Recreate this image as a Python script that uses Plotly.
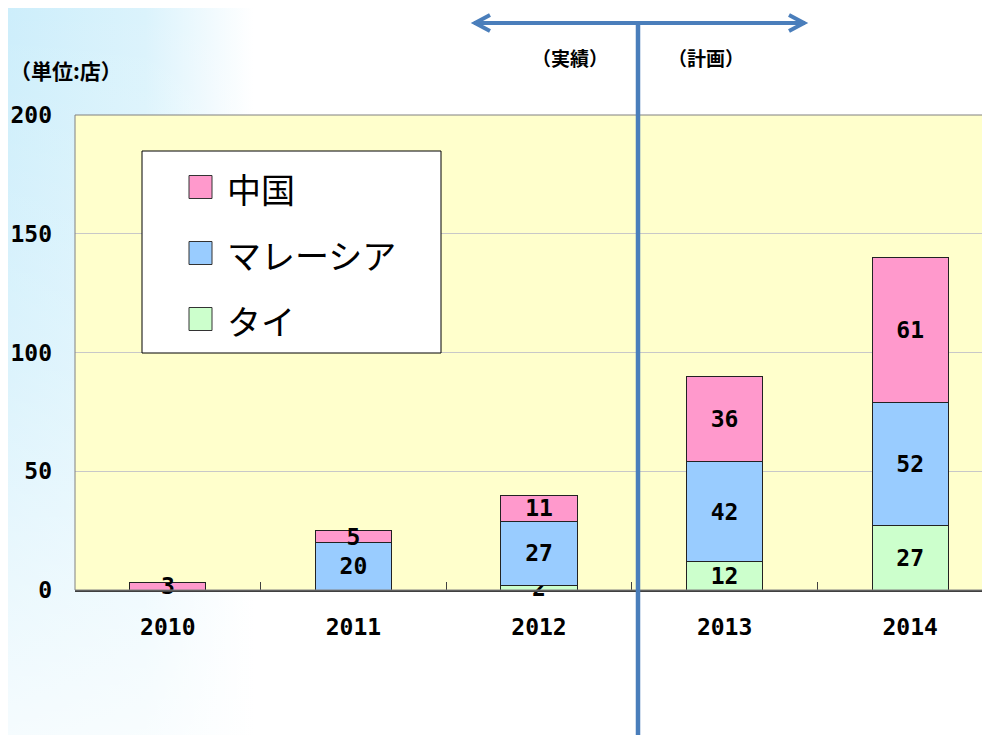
import base64
import plotly.graph_objects as go

# ---- data ----
years = ["2010", "2011", "2012", "2013", "2014"]
series_names = ["中国", "マレーシア", "タイ"]
china = [3, 5, 11, 36, 61]
malaysia = [0, 20, 27, 42, 52]
thai = [0, 0, 2, 12, 27]
y_ticks = [0, 50, 100, 150, 200]
unit_label = "（単位:店）"
actual_label = "（実績）"
plan_label = "（計画）"

colors = {"中国": "#FF99CC", "マレーシア": "#99CCFF", "タイ": "#CCFFCC"}

# ---- geometry (page pixel coords; page has an 8px body margin) ----
OFF = 8
PW, PH = 990, 735
L, T, W, H = 75, 115, 915, 475           # plot area in page coords
FW, FH = PW - OFF, PH - OFF               # figure size


def px(x):
    return (x - L) / W


def py(y):
    return (T + H - y) / H


num_font = dict(family="DejaVu Sans Mono", size=23, color="black", weight="bold")
jp_bold = dict(family="Noto Sans CJK JP", size=19, color="black", weight="bold")

fig = go.Figure()


def lab(vals):
    return [str(v) if v else "" for v in vals]


for name, vals in [("タイ", thai), ("マレーシア", malaysia), ("中国", china)]:
    fig.add_trace(go.Bar(
        x=years, y=vals, name=name, width=0.41,
        marker=dict(color=colors[name], line=dict(color="#222222", width=1)),
        text=lab(vals), textposition="inside", insidetextanchor="middle",
        textangle=0, constraintext="none", textfont=num_font, cliponaxis=False,
        showlegend=False, hoverinfo="skip",
    ))

# background gradient (figure coords)
svg = f'''<svg xmlns="http://www.w3.org/2000/svg" width="{FW}" height="{FH}" viewBox="0 0 {FW} {FH}" preserveAspectRatio="none">
<defs>
<linearGradient id="g" x1="0" y1="0" x2="1" y2="0">
<stop offset="0" stop-color="#cdeefb"/>
<stop offset="0.14" stop-color="#dbf3fc"/>
<stop offset="0.25" stop-color="#ffffff"/>
</linearGradient>
<linearGradient id="v" x1="0" y1="0" x2="0" y2="1">
<stop offset="0" stop-color="#ffffff" stop-opacity="0"/>
<stop offset="0.5" stop-color="#ffffff" stop-opacity="0.3"/>
<stop offset="1" stop-color="#ffffff" stop-opacity="0.8"/>
</linearGradient>
</defs>
<rect width="{FW}" height="{FH}" fill="url(#g)"/>
<rect width="{FW}" height="{FH}" fill="url(#v)"/>
</svg>'''
src = "data:image/svg+xml;base64," + base64.b64encode(svg.encode()).decode()

shapes = []
shapes.append(dict(type="rect", xref="paper", yref="paper", x0=0, x1=1, y0=0, y1=1,
                   fillcolor="#FFFFCC", line=dict(width=0), layer="below"))
shapes.append(dict(type="rect", xref="paper", yref="paper", x0=0, x1=1.01, y0=0, y1=1,
                   fillcolor="rgba(0,0,0,0)", line=dict(color="#808080", width=1), layer="above"))

blue = "#4A7EBB"
shapes.append(dict(type="line", xref="paper", yref="paper", x0=px(638), x1=px(638),
                   y0=py(21), y1=py(745), line=dict(color=blue, width=4.5), layer="above"))
shapes.append(dict(type="line", xref="paper", yref="paper", x0=px(474), x1=px(805),
                   y0=py(23), y1=py(23), line=dict(color=blue, width=4), layer="above"))
shapes.append(dict(type="path", xref="paper", yref="paper",
                   path=f"M{px(490)},{py(15)} L{px(475)},{py(23)} L{px(490)},{py(31)}",
                   line=dict(color=blue, width=4), layer="above"))
shapes.append(dict(type="path", xref="paper", yref="paper",
                   path=f"M{px(789)},{py(15)} L{px(804)},{py(23)} L{px(789)},{py(31)}",
                   line=dict(color=blue, width=4), layer="above"))

# custom legend
shapes.append(dict(type="rect", xref="paper", yref="paper", x0=px(142), x1=px(441),
                   y0=py(353), y1=py(151), fillcolor="white",
                   line=dict(color="black", width=1), layer="above"))
annotations = []
for i, name in enumerate(series_names):
    cy = 187 + 66 * i
    shapes.append(dict(type="rect", xref="paper", yref="paper", x0=px(189), x1=px(212),
                       y0=py(cy + 11.5), y1=py(cy - 11.5), fillcolor=colors[name],
                       line=dict(color="#333333", width=1), layer="above"))
    annotations.append(dict(x=px(225), y=py(cy + 1), xref="paper", yref="paper", text=name,
                            showarrow=False, xanchor="left", yanchor="middle",
                            font=dict(family="Noto Sans CJK JP", size=34, color="black")))

annotations += [
    dict(x=px(8), y=py(70), xref="paper", yref="paper", text=unit_label, showarrow=False,
         xanchor="left", yanchor="middle", font=dict(jp_bold, size=21)),
    dict(x=px(570), y=py(58), xref="paper", yref="paper", text=actual_label, showarrow=False,
         xanchor="center", yanchor="middle", font=jp_bold),
    dict(x=px(706), y=py(58), xref="paper", yref="paper", text=plan_label, showarrow=False,
         xanchor="center", yanchor="middle", font=jp_bold),
]

fig.update_layout(
    width=FW, height=FH,
    margin=dict(l=L - OFF, r=FW - (L - OFF) - W, t=T - OFF, b=FH - (T - OFF) - H, pad=0),
    barmode="stack",
    paper_bgcolor="white", plot_bgcolor="rgba(0,0,0,0)",
    showlegend=False,
    shapes=shapes, annotations=annotations,
    images=[dict(source=src, xref="paper", yref="paper", x=px(OFF), y=py(OFF),
                 sizex=FW / W, sizey=FH / H, xanchor="left", yanchor="top",
                 sizing="stretch", layer="below")],
    xaxis=dict(type="category", range=[-0.5, 4.43], showgrid=False,
               showline=True, linecolor="#404040", linewidth=2,
               ticks="inside", tickson="boundaries", ticklen=8, tickcolor="#404040",
               tickfont=num_font, ticklabelstandoff=15, fixedrange=True),
    yaxis=dict(range=[0, 200], tickvals=y_ticks, showgrid=True, gridcolor="#C8C8C8",
               gridwidth=1, zeroline=False, showline=False, ticks="",
               tickfont=num_font, ticklabelstandoff=22, fixedrange=True),
)

fig.write_html("out.html")
